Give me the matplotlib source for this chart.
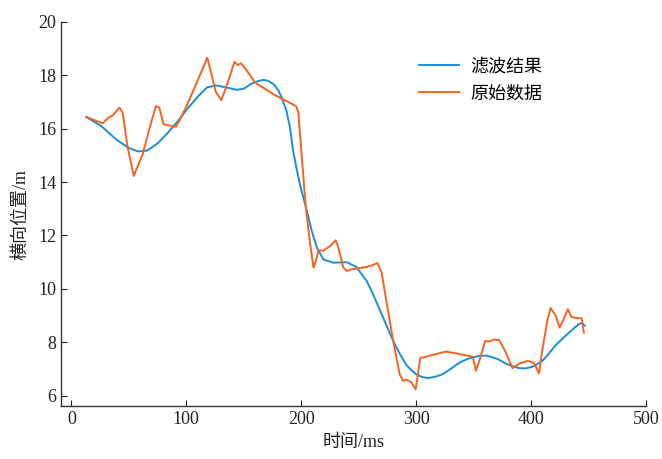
import matplotlib
matplotlib.use("Agg")
import matplotlib.pyplot as plt

plt.rcParams['font.family'] = ['Liberation Serif', 'Noto Sans CJK SC']
plt.rcParams['mathtext.fontset'] = 'stix'

# 滤波结果 (filtered)
t_filt = [13, 26, 39, 50, 58, 66, 75, 84, 93, 101, 110, 118, 126, 135.6, 144, 150, 156, 162, 167, 171,
          176, 180, 183, 187, 190, 193, 196, 199, 202, 205, 209, 213.6, 219.3, 228, 239.6, 248, 256.9,
          262, 268, 274, 280, 286, 291.5, 296, 300, 305, 310, 316, 323, 330, 337.7, 345, 355, 361, 366,
          372, 378, 384, 389.6, 395, 401, 405, 409.8, 415, 421, 427, 433, 438, 441.5, 444.4, 446.8]
y_filt = [16.44, 16.1, 15.6, 15.28, 15.15, 15.18, 15.45, 15.85, 16.3, 16.75, 17.2, 17.55, 17.62, 17.54,
          17.46, 17.5, 17.67, 17.78, 17.83, 17.8, 17.67, 17.45, 17.17, 16.7, 16.1, 15.17, 14.5, 13.9,
          13.4, 12.92, 12.2, 11.55, 11.1, 10.98, 11.0, 10.82, 10.3, 9.85, 9.25, 8.65, 8.05, 7.55, 7.15,
          6.95, 6.8, 6.7, 6.66, 6.7, 6.8, 7.0, 7.24, 7.38, 7.49, 7.5, 7.44, 7.35, 7.2, 7.1, 7.03, 7.02,
          7.08, 7.17, 7.3, 7.55, 7.87, 8.12, 8.36, 8.55, 8.68, 8.72, 8.62]

# 原始数据 (raw)
t_raw = [13, 27.4, 31.8, 36, 41.8, 44.7, 49, 54.3, 62, 67.8, 73.6, 76.5, 80.2, 91, 94, 101, 109.7,
         118.3, 121, 125.5, 130.5, 135.6, 142, 144.5, 147.8, 153, 160, 176, 195.5, 197.5,
         204, 207.8, 210.7, 212.5, 215, 219, 225, 230, 232, 236.6, 239.6, 243.5, 251, 257, 263, 266.4,
         270, 280, 285.7, 288.6, 291.5, 295.8, 299.6, 303.6, 308.8, 317.5, 326, 335, 349.3, 352, 355,
         360, 363.5, 368, 372.4, 378, 383.8, 389.6, 396.8, 402.6, 406.9, 409.8, 414.1, 417, 421.4,
         424.8, 428.5, 432, 435, 441.5, 444, 445, 446]
y_raw = [16.44, 16.2, 16.4, 16.5, 16.79, 16.6, 15.3, 14.23, 15.04, 15.98, 16.85, 16.8, 16.17, 16.07,
         16.3, 16.92, 17.79, 18.66, 18.2, 17.4, 17.07, 17.67, 18.51, 18.39, 18.45, 18.16, 17.73, 17.29,
         16.85, 16.6, 13.05, 11.67, 10.8, 11.0, 11.45, 11.43, 11.6, 11.82, 11.6, 10.8,
         10.67, 10.73, 10.78, 10.82, 10.9, 10.97, 10.6, 8.05, 6.8, 6.55, 6.6, 6.5, 6.24, 7.41, 7.46,
         7.56, 7.65, 7.58, 7.46, 6.93, 7.3, 8.05, 8.03, 8.1, 8.08, 7.62, 7.03, 7.2, 7.3, 7.23, 6.83,
         7.7, 8.8, 9.28, 9.0, 8.55, 8.87, 9.24, 8.95, 8.9, 8.9, 8.6, 8.36]

x_ticks = [0, 100, 200, 300, 400, 500]
y_ticks = [6, 8, 10, 12, 14, 16, 18, 20]

fig = plt.figure(figsize=(6.62, 4.59), dpi=100)
ax = fig.add_axes([61/662, 1-406.3/459, (646-61)/662, (406.3-22)/459])

ax.plot(t_filt, y_filt, color='#1a8fd8', lw=1.4, label='滤波结果')
ax.plot(t_raw, y_raw, color='#f5641e', lw=1.4, label='原始数据')

ax.set_xlim(-9, 500)
ax.set_ylim(5.6, 20)
ax.set_xticks(x_ticks)
ax.set_yticks(y_ticks)
ax.tick_params(direction='in', length=4, width=0.8, labelsize=13, colors='#222222')
for s in ['top', 'right']:
    ax.spines[s].set_visible(False)
for s in ['left', 'bottom']:
    ax.spines[s].set_linewidth(1.0)
    ax.spines[s].set_color('#333333')

ax.set_xlabel('时间/ms', fontsize=13, color='#222222', labelpad=4)
ax.set_ylabel('横向位置/m', fontsize=13, color='#222222', labelpad=6)

leg = ax.legend(loc='upper left', bbox_to_anchor=(0.585, 0.947), frameon=False, fontsize=13,
                handlelength=2.2, handletextpad=0.6, labelspacing=0.54)

fig.savefig('out.png', dpi=100)
